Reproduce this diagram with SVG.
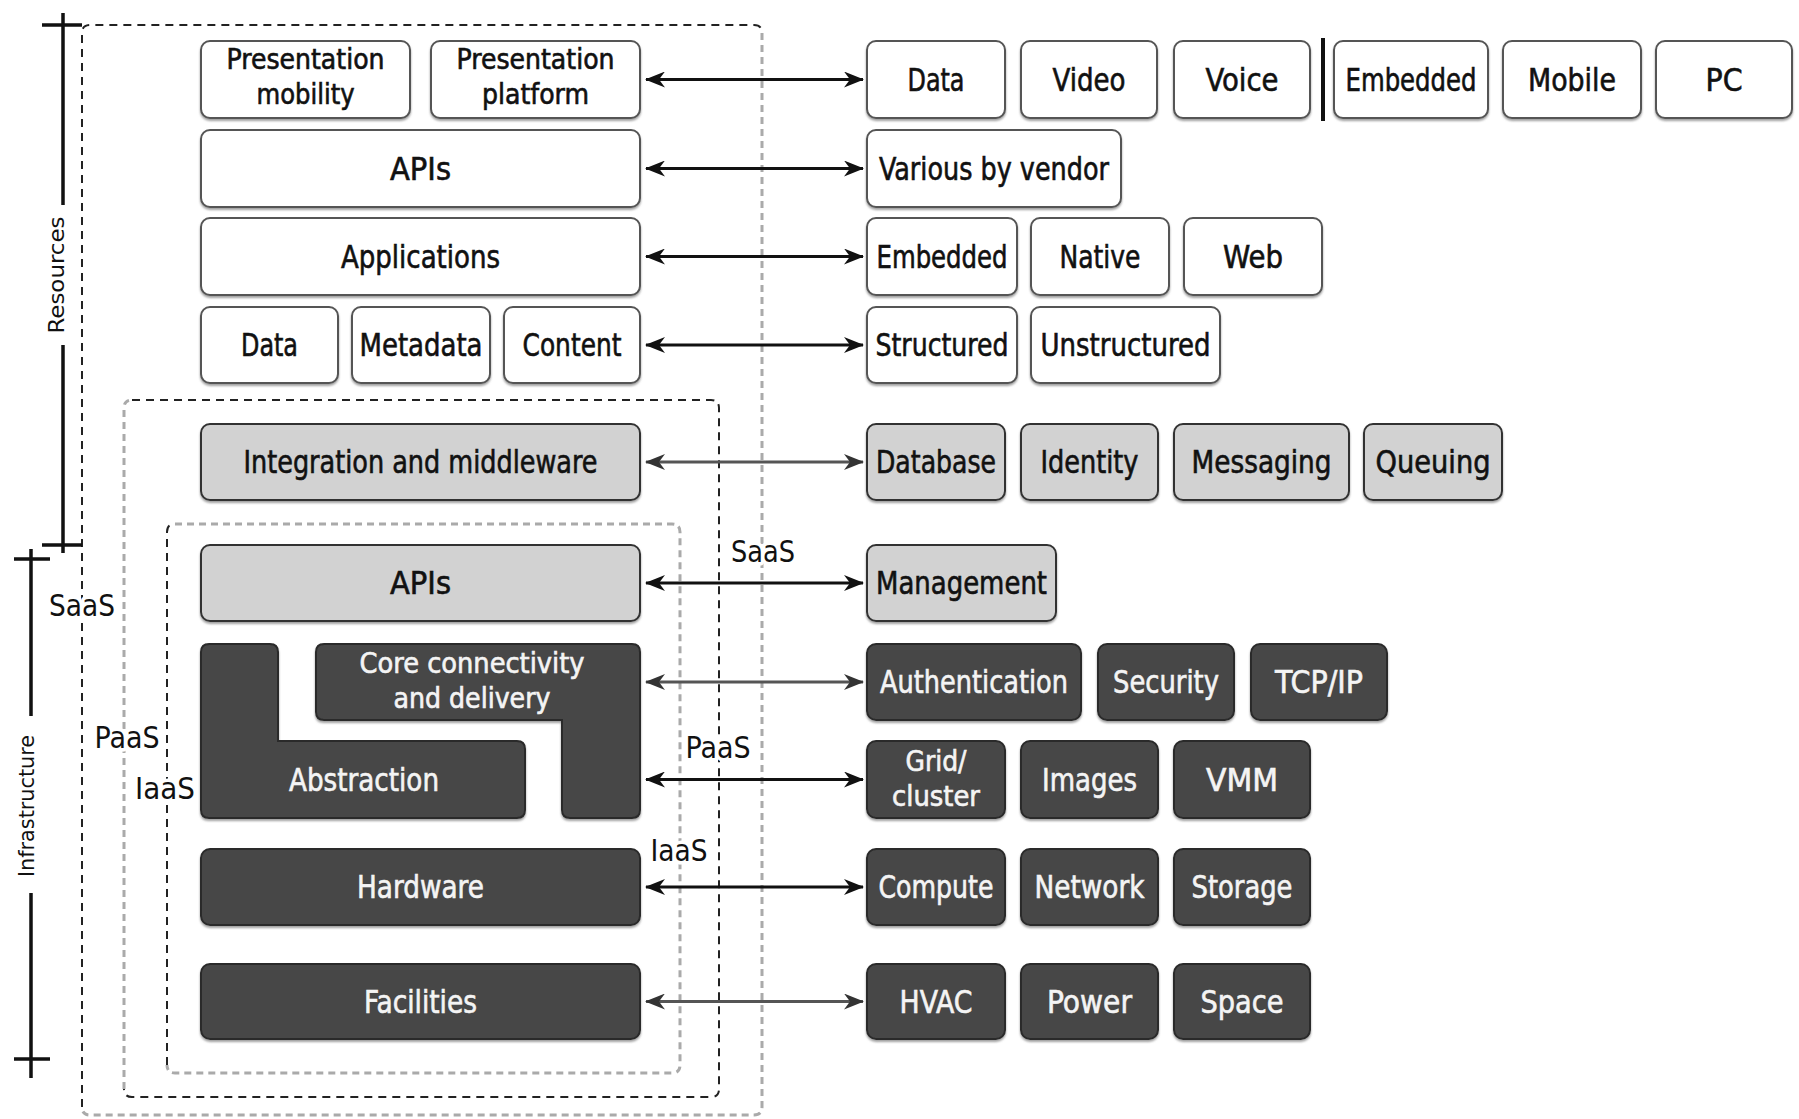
<svg xmlns="http://www.w3.org/2000/svg" width="1799" height="1119" viewBox="0 0 1799 1119">
<style>
.t{font-family:"DejaVu Sans","Liberation Sans",sans-serif;font-stretch:condensed;font-size:32px;text-anchor:middle;fill:#111;stroke:#111;stroke-width:0.6px}
.t2{font-size:28px}
.tw{fill:#f4f4f4;stroke:#f4f4f4}
.lbl{font-family:"DejaVu Sans","Liberation Sans",sans-serif;font-stretch:condensed;font-size:30px;text-anchor:middle;fill:#111;stroke:#fff;stroke-width:7px;paint-order:stroke;stroke-linejoin:round}
.ax{font-family:"DejaVu Sans","Liberation Sans",sans-serif;font-stretch:condensed;font-size:21px;text-anchor:middle;fill:#111}
.bw{fill:#fff;stroke:#555;stroke-width:2;filter:url(#sh)}
.bg{fill:#d2d2d2;stroke:#333;stroke-width:2;filter:url(#sh)}
.bd{fill:#464646;stroke:#2a2a2a;stroke-width:2;filter:url(#sh)}
.dk{fill:none;stroke:#222;stroke-width:2;stroke-dasharray:8 6}
.gr{fill:none;stroke:#aaa;stroke-width:3;stroke-dasharray:7 5}
.axl{stroke:#111;stroke-width:3.5;fill:none}
.ar{stroke:#111;stroke-width:3;fill:none;marker-start:url(#ah);marker-end:url(#ah)}
.ag{stroke:#555;stroke-width:3;fill:none;marker-start:url(#ahg);marker-end:url(#ahg)}
</style>
<defs>
<filter id="sh" x="-5%" y="-10%" width="110%" height="130%"><feDropShadow dx="0" dy="2" stdDeviation="1" flood-color="#888" flood-opacity="0.8"/></filter>
<marker id="ah" viewBox="0 0 20 16" refX="19" refY="8" markerWidth="20" markerHeight="16" markerUnits="userSpaceOnUse" orient="auto-start-reverse"><path d="M0,0 L20,8 L0,16 L6,8 Z" fill="#111"/></marker>
<marker id="ahg" viewBox="0 0 20 16" refX="19" refY="8" markerWidth="20" markerHeight="16" markerUnits="userSpaceOnUse" orient="auto-start-reverse"><path d="M0,0 L20,8 L0,16 L6,8 Z" fill="#333"/></marker>
</defs>
<rect width="1799" height="1119" fill="#fff"/>

<g id="frames">
<path class="dk" d="M82,1107 V33 Q82,25 90,25 H754 Q762,25 762,33"/>
<path class="gr" d="M762,33 V1107 Q762,1115 754,1115 H90 Q82,1115 82,1107"/>
<path class="gr" d="M124,1089 V408 Q124,400 132,400"/>
<path class="dk" d="M132,400 H711 Q719,400 719,408 V1089 Q719,1097 711,1097 H132 Q124,1097 124,1089"/>
<path class="dk" d="M167,1065 V532 Q167,524 175,524"/>
<path class="gr" d="M175,524 H672 Q680,524 680,532 V1065 Q680,1073 672,1073 H175 Q167,1073 167,1065"/>
</g>

<g id="axes">
<path class="axl" d="M63,13 V205 M63,345 V553 M42,25 H82 M42,545 H82"/>
<text class="ax" transform="translate(64,275) rotate(-90)" textLength="117" lengthAdjust="spacingAndGlyphs">Resources</text>
<path class="axl" d="M31,549 V716 M31,893 V1078 M14,559 H50 M14,1059 H50"/>
<text class="ax" transform="translate(34,806) rotate(-90)" textLength="142" lengthAdjust="spacingAndGlyphs">Infrastructure</text>
</g>

<g id="connectors">
<line class="ar" x1="646" y1="79.5" x2="863" y2="79.5"/>
<line class="ar" x1="646" y1="168.5" x2="863" y2="168.5"/>
<line class="ar" x1="646" y1="256.5" x2="863" y2="256.5"/>
<line class="ar" x1="646" y1="345" x2="863" y2="345"/>
<line class="ag" x1="646" y1="462" x2="863" y2="462"/>
<line class="ar" x1="646" y1="583" x2="863" y2="583"/>
<line class="ag" x1="646" y1="682" x2="863" y2="682"/>
<line class="ar" x1="646" y1="779.5" x2="863" y2="779.5"/>
<line class="ar" x1="646" y1="887" x2="863" y2="887"/>
<line class="ag" x1="646" y1="1001.5" x2="863" y2="1001.5"/>
<line x1="1323" y1="38" x2="1323" y2="121" stroke="#111" stroke-width="4"/>
</g>

<g id="layer-labels">
<text class="lbl" x="82" y="616" textLength="66" lengthAdjust="spacingAndGlyphs">SaaS</text>
<text class="lbl" x="127" y="748" textLength="65" lengthAdjust="spacingAndGlyphs">PaaS</text>
<text class="lbl" x="165" y="799" textLength="60" lengthAdjust="spacingAndGlyphs">IaaS</text>
<text class="lbl" x="763" y="562" textLength="64" lengthAdjust="spacingAndGlyphs">SaaS</text>
<text class="lbl" x="718" y="758" textLength="65" lengthAdjust="spacingAndGlyphs">PaaS</text>
<text class="lbl" x="679" y="861" textLength="57" lengthAdjust="spacingAndGlyphs">IaaS</text>
</g>

<!-- left stack -->
<g id="pres-mobility"><rect class="bw" x="201" y="41" width="209" height="77" rx="9"/><text class="t t2" x="305.5" y="69" textLength="158" lengthAdjust="spacingAndGlyphs">Presentation</text><text class="t t2" x="305.5" y="104" textLength="98" lengthAdjust="spacingAndGlyphs">mobility</text></g>
<g id="pres-platform"><rect class="bw" x="431" y="41" width="209" height="77" rx="9"/><text class="t t2" x="535.5" y="69" textLength="158" lengthAdjust="spacingAndGlyphs">Presentation</text><text class="t t2" x="535.5" y="104" textLength="107" lengthAdjust="spacingAndGlyphs">platform</text></g>
<g id="apis-top"><rect class="bw" x="201" y="130" width="439" height="77" rx="9"/><text class="t" x="420.5" y="180" textLength="61" lengthAdjust="spacingAndGlyphs">APIs</text></g>
<g id="applications"><rect class="bw" x="201" y="218" width="439" height="77" rx="9"/><text class="t" x="420.5" y="268" textLength="159" lengthAdjust="spacingAndGlyphs">Applications</text></g>
<g id="data-left"><rect class="bw" x="201" y="307" width="137" height="76" rx="9"/><text class="t" x="269.5" y="356" textLength="57" lengthAdjust="spacingAndGlyphs">Data</text></g>
<g id="metadata"><rect class="bw" x="352" y="307" width="138" height="76" rx="9"/><text class="t" x="421" y="356" textLength="123" lengthAdjust="spacingAndGlyphs">Metadata</text></g>
<g id="content"><rect class="bw" x="504" y="307" width="136" height="76" rx="9"/><text class="t" x="572" y="356" textLength="99" lengthAdjust="spacingAndGlyphs">Content</text></g>
<g id="integration"><rect class="bg" x="201" y="424" width="439" height="76" rx="9"/><text class="t" x="420.5" y="473" textLength="354" lengthAdjust="spacingAndGlyphs">Integration and middleware</text></g>
<g id="apis-mid"><rect class="bg" x="201" y="545" width="439" height="76" rx="9"/><text class="t" x="420.5" y="594" textLength="61" lengthAdjust="spacingAndGlyphs">APIs</text></g>
<g id="core-connectivity"><path class="bd" d="M324,644 H632 Q640,644 640,652 V810 Q640,818 632,818 H570 Q562,818 562,810 V720 H324 Q316,720 316,712 V652 Q316,644 324,644 Z"/><text class="t t2 tw" x="472" y="673" textLength="225" lengthAdjust="spacingAndGlyphs">Core connectivity</text><text class="t t2 tw" x="472" y="708" textLength="157" lengthAdjust="spacingAndGlyphs">and delivery</text></g>
<g id="abstraction"><path class="bd" d="M209,644 H270 Q278,644 278,652 V741 H517 Q525,741 525,749 V810 Q525,818 517,818 H209 Q201,818 201,810 V652 Q201,644 209,644 Z"/><text class="t tw" x="364" y="791" textLength="150" lengthAdjust="spacingAndGlyphs">Abstraction</text></g>
<g id="hardware"><rect class="bd" x="201" y="849" width="439" height="76" rx="9"/><text class="t tw" x="420.5" y="898" textLength="127" lengthAdjust="spacingAndGlyphs">Hardware</text></g>
<g id="facilities"><rect class="bd" x="201" y="964" width="439" height="75" rx="9"/><text class="t tw" x="420.5" y="1013" textLength="113" lengthAdjust="spacingAndGlyphs">Facilities</text></g>

<!-- right column -->
<g id="r-data"><rect class="bw" x="867" y="41" width="138" height="77" rx="9"/><text class="t" x="936" y="91" textLength="57" lengthAdjust="spacingAndGlyphs">Data</text></g>
<g id="r-video"><rect class="bw" x="1021" y="41" width="136" height="77" rx="9"/><text class="t" x="1089" y="91" textLength="73" lengthAdjust="spacingAndGlyphs">Video</text></g>
<g id="r-voice"><rect class="bw" x="1174" y="41" width="136" height="77" rx="9"/><text class="t" x="1242" y="91" textLength="73" lengthAdjust="spacingAndGlyphs">Voice</text></g>
<g id="r-embedded1"><rect class="bw" x="1334" y="41" width="154" height="77" rx="9"/><text class="t" x="1411" y="91" textLength="131" lengthAdjust="spacingAndGlyphs">Embedded</text></g>
<g id="r-mobile"><rect class="bw" x="1503" y="41" width="138" height="77" rx="9"/><text class="t" x="1572" y="91" textLength="88" lengthAdjust="spacingAndGlyphs">Mobile</text></g>
<g id="r-pc"><rect class="bw" x="1656" y="41" width="136" height="77" rx="9"/><text class="t" x="1724" y="91" textLength="37" lengthAdjust="spacingAndGlyphs">PC</text></g>

<g id="r-various"><rect class="bw" x="867" y="130" width="254" height="77" rx="9"/><text class="t" x="994" y="180" textLength="230" lengthAdjust="spacingAndGlyphs">Various by vendor</text></g>

<g id="r-embedded2"><rect class="bw" x="867" y="218" width="150" height="77" rx="9"/><text class="t" x="942" y="268" textLength="131" lengthAdjust="spacingAndGlyphs">Embedded</text></g>
<g id="r-native"><rect class="bw" x="1031" y="218" width="138" height="77" rx="9"/><text class="t" x="1100" y="268" textLength="81" lengthAdjust="spacingAndGlyphs">Native</text></g>
<g id="r-web"><rect class="bw" x="1184" y="218" width="138" height="77" rx="9"/><text class="t" x="1253" y="268" textLength="60" lengthAdjust="spacingAndGlyphs">Web</text></g>

<g id="r-structured"><rect class="bw" x="867" y="307" width="150" height="76" rx="9"/><text class="t" x="942" y="356" textLength="133" lengthAdjust="spacingAndGlyphs">Structured</text></g>
<g id="r-unstructured"><rect class="bw" x="1031" y="307" width="189" height="76" rx="9"/><text class="t" x="1125.5" y="356" textLength="170" lengthAdjust="spacingAndGlyphs">Unstructured</text></g>

<g id="r-database"><rect class="bg" x="867" y="424" width="138" height="76" rx="9"/><text class="t" x="936" y="473" textLength="120" lengthAdjust="spacingAndGlyphs">Database</text></g>
<g id="r-identity"><rect class="bg" x="1021" y="424" width="137" height="76" rx="9"/><text class="t" x="1089.5" y="473" textLength="98" lengthAdjust="spacingAndGlyphs">Identity</text></g>
<g id="r-messaging"><rect class="bg" x="1174" y="424" width="175" height="76" rx="9"/><text class="t" x="1261.5" y="473" textLength="140" lengthAdjust="spacingAndGlyphs">Messaging</text></g>
<g id="r-queuing"><rect class="bg" x="1364" y="424" width="138" height="76" rx="9"/><text class="t" x="1433" y="473" textLength="115" lengthAdjust="spacingAndGlyphs">Queuing</text></g>

<g id="r-management"><rect class="bg" x="867" y="545" width="189" height="76" rx="9"/><text class="t" x="961.5" y="594" textLength="171" lengthAdjust="spacingAndGlyphs">Management</text></g>

<g id="r-authentication"><rect class="bd" x="867" y="644" width="214" height="76" rx="9"/><text class="t tw" x="974" y="693" textLength="188" lengthAdjust="spacingAndGlyphs">Authentication</text></g>
<g id="r-security"><rect class="bd" x="1098" y="644" width="136" height="76" rx="9"/><text class="t tw" x="1166" y="693" textLength="106" lengthAdjust="spacingAndGlyphs">Security</text></g>
<g id="r-tcpip"><rect class="bd" x="1251" y="644" width="136" height="76" rx="9"/><text class="t tw" x="1319" y="693" textLength="88" lengthAdjust="spacingAndGlyphs">TCP/IP</text></g>

<g id="r-grid"><rect class="bd" x="867" y="741" width="138" height="77" rx="9"/><text class="t t2 tw" x="936" y="771" textLength="61" lengthAdjust="spacingAndGlyphs">Grid/</text><text class="t t2 tw" x="936" y="806" textLength="88" lengthAdjust="spacingAndGlyphs">cluster</text></g>
<g id="r-images"><rect class="bd" x="1021" y="741" width="137" height="77" rx="9"/><text class="t tw" x="1089.5" y="791" textLength="95" lengthAdjust="spacingAndGlyphs">Images</text></g>
<g id="r-vmm"><rect class="bd" x="1174" y="741" width="136" height="77" rx="9"/><text class="t tw" x="1242" y="791" textLength="72" lengthAdjust="spacingAndGlyphs">VMM</text></g>

<g id="r-compute"><rect class="bd" x="867" y="849" width="138" height="76" rx="9"/><text class="t tw" x="936" y="898" textLength="115" lengthAdjust="spacingAndGlyphs">Compute</text></g>
<g id="r-network"><rect class="bd" x="1021" y="849" width="137" height="76" rx="9"/><text class="t tw" x="1089.5" y="898" textLength="110" lengthAdjust="spacingAndGlyphs">Network</text></g>
<g id="r-storage"><rect class="bd" x="1174" y="849" width="136" height="76" rx="9"/><text class="t tw" x="1242" y="898" textLength="101" lengthAdjust="spacingAndGlyphs">Storage</text></g>

<g id="r-hvac"><rect class="bd" x="867" y="964" width="138" height="75" rx="9"/><text class="t tw" x="936" y="1013" textLength="73" lengthAdjust="spacingAndGlyphs">HVAC</text></g>
<g id="r-power"><rect class="bd" x="1021" y="964" width="137" height="75" rx="9"/><text class="t tw" x="1089.5" y="1013" textLength="85" lengthAdjust="spacingAndGlyphs">Power</text></g>
<g id="r-space"><rect class="bd" x="1174" y="964" width="136" height="75" rx="9"/><text class="t tw" x="1242" y="1013" textLength="83" lengthAdjust="spacingAndGlyphs">Space</text></g>
</svg>
